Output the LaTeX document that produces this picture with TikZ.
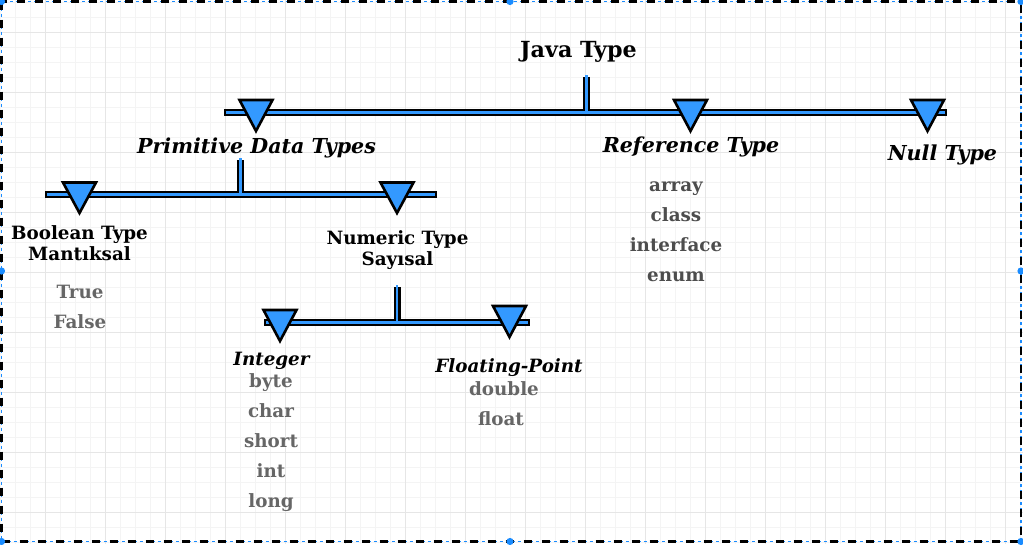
\documentclass[tikz,border=0pt]{standalone}
\usepackage{fontspec}
\setmainfont{DejaVu Serif}
\definecolor{tblue}{HTML}{3399FF}
\definecolor{gminor}{HTML}{F4F4F4}
\definecolor{gmajor}{HTML}{E6E6E6}
\definecolor{itemA}{HTML}{666666}
\definecolor{itemB}{HTML}{4D4D4D}
\definecolor{selblue}{HTML}{1A8CFF}
\tikzset{
  head/.style={anchor=base, font=\fontsize{22.2}{26}\selectfont\bfseries},
  cathead/.style={anchor=base, font=\fontsize{20.6}{24}\selectfont\bfseries\itshape},
  subhead/.style={anchor=base, font=\fontsize{18.3}{22}\selectfont\bfseries},
  subit/.style={anchor=base, font=\fontsize{18.3}{22}\selectfont\bfseries\itshape},
  itemgray/.style={anchor=base, font=\fontsize{18.3}{22}\selectfont\bfseries, text=itemA},
  itemdark/.style={anchor=base, font=\fontsize{18.3}{22}\selectfont\bfseries, text=itemB},
  barout/.style={line width=7pt, draw=black},
  barin/.style={line width=2.6pt, draw=tblue},
  tri/.style={fill=tblue, draw=black, line width=2.6pt, line join=miter},
  handle/.style={fill=selblue, draw=none}
}
\newcommand{\mytri}[3]{% x, top y, apex y
  \draw[tri] (#1-16.5,#2) -- (#1+16.5,#2) -- (#1,#3) -- cycle;}
\begin{document}
\begin{tikzpicture}[x=1pt,y=-1pt]
\useasboundingbox (0,0) rectangle (1023,544);
\fill[white] (0,0) rectangle (1023,544);
% grid
\foreach \x in {0,15,...,1020} \draw[gminor, line width=0.8pt] (\x,0) -- (\x,544);
\foreach \y in {2,17,...,542} \draw[gminor, line width=0.8pt] (0,\y) -- (1023,\y);
\foreach \x in {45,105,...,1005} \draw[gmajor, line width=0.8pt] (\x,0) -- (\x,544);
\foreach \y in {32,92,...,512} \draw[gmajor, line width=0.8pt] (0,\y) -- (1023,\y);
% coordinates
\coordinate (b1l) at (224,112.5); \coordinate (b1r) at (947,112.5);
\coordinate (b1s) at (586.5,112.5); \coordinate (b1t) at (586.5,77);
\coordinate (b2l) at (45,194.5); \coordinate (b2r) at (437,194.5);
\coordinate (b2s) at (240.5,194.5); \coordinate (b2t) at (240.5,160);
\coordinate (b3l) at (264,322.5); \coordinate (b3r) at (530,322.5);
\coordinate (b3s) at (397,322.5); \coordinate (b3t) at (397,287);
% bars (outline then fill)
\draw[barout] (b1l) -- (b1r); \draw[barout] (b1s) -- (b1t);
\draw[barout] (b2l) -- (b2r); \draw[barout] (b2s) -- (b2t);
\draw[barout] (b3l) -- (b3r); \draw[barout] (b3s) -- (b3t);
\draw[barin] ([xshift=2.2pt]b1l) -- ([xshift=-2.2pt]b1r); \draw[barin] (b1s) -- ([yshift=2.2pt]b1t);
\draw[barin] ([xshift=2.2pt]b2l) -- ([xshift=-2.2pt]b2r); \draw[barin] (b2s) -- ([yshift=2.2pt]b2t);
\draw[barin] ([xshift=2.2pt]b3l) -- ([xshift=-2.2pt]b3r); \draw[barin] (b3s) -- ([yshift=2.2pt]b3t);
% triangles
\mytri{256}{100}{131}
\mytri{690.5}{100}{131}
\mytri{927.5}{100}{131}
\mytri{79.5}{182.5}{213}
\mytri{397}{182.5}{213}
\mytri{280}{310}{341}
\mytri{509.5}{306}{337}
% texts
\node[head] (java) at (578.5,57) {Java Type};
\node[cathead] (prim) at (256.5,153.5) {Primitive Data Types};
\node[cathead] (ref) at (691,152.5) {Reference Type};
\node[cathead] (null) at (942.5,160) {Null Type};
\node[subhead] (bool) at (79.5,239.5) {Boolean Type};
\node[subhead] (boolb) at (79.5,260.5) {Mantıksal};
\node[subhead] (num) at (397.5,244) {Numeric Type};
\node[subhead] (numb) at (397.5,265) {Sayısal};
\node[itemgray] (true) at (80,298) {True};
\node[itemgray] (false) at (80,328) {False};
\node[subit] (int) at (271.5,365) {Integer};
\node[itemgray] (byte) at (271,387) {byte};
\node[itemgray] (char) at (271,417) {char};
\node[itemgray] (short) at (271,447) {short};
\node[itemgray] (intt) at (271,477) {int};
\node[itemgray] (long) at (271,507) {long};
\node[subit] (float) at (509,372.5) {Floating-Point};
\node[itemgray] (dbl) at (504,395) {double};
\node[itemgray] (flt) at (501,425) {float};
\node[itemdark] (arr) at (676,191.5) {array};
\node[itemdark] (cls) at (676,221) {class};
\node[itemdark] (ifc) at (676,251) {interface};
\node[itemdark] (enm) at (676,281) {enum};
% selection border
\draw[selblue, line width=1.5pt, dash pattern=on 3pt off 3pt] (1.5,1.5) rectangle (1021,541.5);
\draw[black, line width=2.6pt, dash pattern=on 8pt off 10pt] (1.5,1.5) rectangle (1021,541.5);
% handles
\foreach \p in {(1.5,1.5),(510,1.5),(1021,1.5),(1021,271),(1021,541.5),(510,541.5),(1.5,541.5),(1.5,271)}
  \fill[handle] \p circle (3.6pt);
\end{tikzpicture}
\end{document}
